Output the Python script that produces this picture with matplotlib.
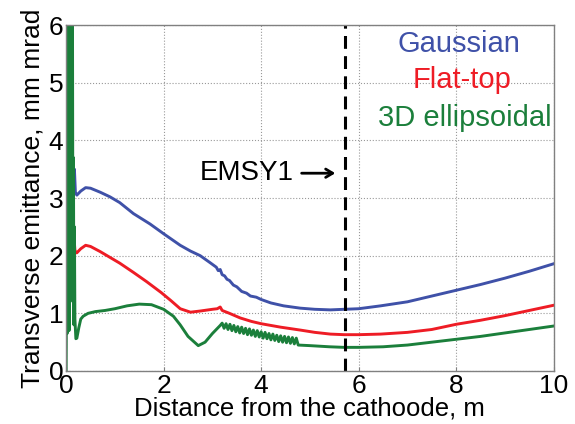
import matplotlib
matplotlib.use('Agg')
import matplotlib.pyplot as plt

plt.rcParams['font.family'] = ['Liberation Sans', 'DejaVu Sans']

# Gaussian
gauss_x = [0.0, 0.01, 0.02, 0.03, 0.04, 0.05, 0.07, 0.09, 0.11, 0.13, 0.15, 0.17, 0.19, 0.22,
           0.3, 0.4, 0.5, 0.7, 0.9, 1.1, 1.38, 1.72, 2.0, 2.34, 2.55, 2.75, 2.95, 3.08, 3.12,
           3.16, 3.2, 3.25, 3.3, 3.35, 3.43, 3.5, 3.6, 3.7, 3.78, 3.9, 4.0, 4.2, 4.46, 4.8,
           5.1, 5.42, 5.7, 6.0, 6.45, 7.0, 7.5, 8.0, 8.5, 9.0, 9.5, 10.0]
gauss_y = [2.8, 3.75, 3.0, 3.7, 3.1, 3.5, 3.3, 3.4, 3.2, 3.6, 3.1, 3.5, 3.1, 3.05,
           3.12, 3.18, 3.17, 3.1, 3.02, 2.92, 2.73, 2.55, 2.38, 2.18, 2.08, 2.0, 1.88, 1.8, 1.74,
           1.76, 1.67, 1.65, 1.59, 1.57, 1.49, 1.46, 1.38, 1.35, 1.3, 1.28, 1.24, 1.18, 1.13, 1.09,
           1.07, 1.06, 1.07, 1.08, 1.13, 1.2, 1.3, 1.4, 1.5, 1.61, 1.73, 1.86]

# Flat-top
flat_x = [0.0, 0.01, 0.02, 0.03, 0.04, 0.05, 0.07, 0.09, 0.12, 0.15, 0.18, 0.2, 0.22,
          0.3, 0.4, 0.5, 0.7, 0.9, 1.1, 1.38, 1.65, 1.95, 2.15, 2.34, 2.55, 2.75, 3.0, 3.1,
          3.16, 3.2, 3.35, 3.57, 3.8, 4.0, 4.4, 4.8, 5.1, 5.42, 5.7, 6.0, 6.45, 7.0, 7.5,
          8.0, 8.5, 9.0, 9.5, 10.0]
flat_y = [2.0, 2.65, 2.1, 2.8, 2.2, 2.6, 2.3, 2.5, 2.2, 2.45, 2.1, 2.05, 2.05,
          2.12, 2.18, 2.16, 2.07, 1.97, 1.87, 1.71, 1.55, 1.36, 1.22, 1.08, 1.02, 1.04, 1.07, 1.08,
          1.11, 1.05, 1.0, 0.92, 0.86, 0.82, 0.76, 0.71, 0.67, 0.64, 0.63, 0.63, 0.64, 0.67, 0.72,
          0.81, 0.88, 0.96, 1.05, 1.14]

# 3D ellipsoidal
ell_x = [0.0, 0.01, 0.02, 0.03, 0.04, 0.05, 0.06, 0.07, 0.08, 0.09, 0.1, 0.11, 0.12, 0.13,
         0.14, 0.15, 0.16, 0.17, 0.18, 0.2, 0.22, 0.26, 0.3, 0.35, 0.45, 0.6, 0.8, 1.0, 1.25,
         1.5, 1.75, 2.0, 2.2, 2.34, 2.5, 2.71, 2.85, 3.0, 3.16,
         3.20, 3.24, 3.28, 3.32, 3.36, 3.40, 3.44, 3.48, 3.52, 3.56, 3.60, 3.64, 3.68, 3.72,
         3.76, 3.80, 3.84, 3.88, 3.92, 3.96, 4.00, 4.04, 4.08, 4.12, 4.16, 4.20, 4.24, 4.28,
         4.32, 4.36, 4.40, 4.44, 4.48, 4.52, 4.56, 4.60, 4.64, 4.68, 4.72, 4.76,
         5.0, 5.4, 5.7, 6.0, 6.5, 7.0, 7.5, 8.0, 8.5, 9.0, 9.5, 10.0]
ell_y = [0.0, 1.9, 0.65, 2.0, 0.8, 6.5, 0.7, 6.5, 1.5, 6.5, 2.5, 6.5, 3.5, 6.5,
         1.2, 3.7, 0.8, 2.5, 0.9, 0.56, 0.57, 0.75, 0.9, 0.95, 1.0, 1.03, 1.05, 1.08, 1.13,
         1.16, 1.15, 1.07, 0.95, 0.8, 0.6, 0.44, 0.5, 0.65, 0.79,
         0.83, 0.74, 0.82, 0.72, 0.81, 0.70, 0.79, 0.68, 0.77, 0.66, 0.76, 0.65, 0.74, 0.63,
         0.73, 0.62, 0.71, 0.60, 0.70, 0.59, 0.68, 0.57, 0.67, 0.56, 0.65, 0.54, 0.64, 0.53,
         0.62, 0.51, 0.61, 0.50, 0.60, 0.49, 0.59, 0.48, 0.58, 0.47, 0.57, 0.45,
         0.44, 0.42, 0.41, 0.41, 0.42, 0.45, 0.5, 0.55, 0.6, 0.66, 0.72, 0.78]

emsy1_pos = 5.72

c_blue = '#3f51a8'
c_red = '#ee1c25'
c_green = '#1b7f3b'

fig = plt.figure(figsize=(5.75, 4.24), dpi=100)
ax = fig.add_axes([0.115, 0.125, 0.848, 0.816])

ax.plot(gauss_x, gauss_y, color=c_blue, lw=2.1)
ax.plot(flat_x, flat_y, color=c_red, lw=2.1)
ax.plot(ell_x, ell_y, color=c_green, lw=2.1)

vl = ax.axvline(emsy1_pos, color='black', lw=2.2)
vl.set_dashes((4.2, 2.4))

ax.text(4.66, 3.43, 'EMSY1', ha='right', va='center', fontsize=20)
ax.annotate('', xy=(5.52, 3.43), xytext=(4.83, 3.43),
            arrowprops=dict(arrowstyle='->,head_length=0.5,head_width=0.3', lw=2, color='black',
                            shrinkA=0, shrinkB=0))

ax.text(8.05, 5.67, 'Gaussian', color=c_blue, ha='center', va='center', fontsize=21)
ax.text(8.13, 5.04, 'Flat-top', color=c_red, ha='center', va='center', fontsize=21)
ax.text(8.17, 4.38, '3D ellipsoidal', color=c_green, ha='center', va='center', fontsize=21)

ax.set_xlim(0, 10)
ax.set_ylim(0, 6)
ax.set_xticks([0, 2, 4, 6, 8, 10])
ax.set_yticks([0, 1, 2, 3, 4, 5, 6])
ax.grid(True, linestyle=':', color='#999999', lw=0.8)
ax.tick_params(direction='in', length=3, labelsize=19, pad=2, color='#808080')
for s in ax.spines.values():
    s.set_color('#808080')
    s.set_linewidth(1.0)

ax.set_xlabel('Distance from the cathoode, m', fontsize=18.5, labelpad=-1)
ax.set_ylabel('Transverse emittance, mm mrad', fontsize=19, labelpad=3)

fig.savefig('out.png', dpi=100)
